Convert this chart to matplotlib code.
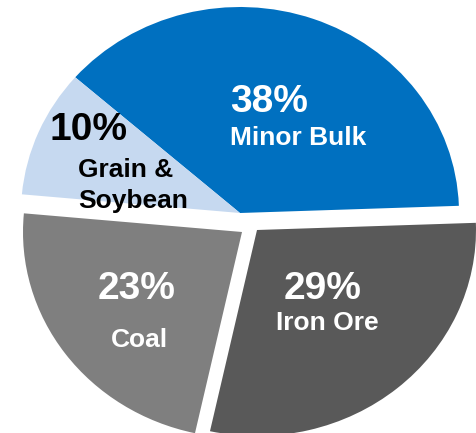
import matplotlib.pyplot as plt
import matplotlib as mpl

# cargo mix, counter-clockwise from 3 o'clock
categories = ["Minor Bulk", "Grain &\nSoybean", "Coal", "Iron Ore"]
shares = [38, 10, 23, 29]
pct_labels = ["38%", "10%", "23%", "29%"]

colors = ["#0070C0", "#C6D9F0", "#7F7F7F", "#595959"]

mpl.rcParams['font.family'] = ['Liberation Sans', 'DejaVu Sans']

W, H = 476, 433
RX, RY = 219, 206          # pixel radii of the (slightly squashed) pie
CX, CY = 240, 213          # pixel centre of the upper slices

fig = plt.figure(figsize=(W / 100, H / 100), dpi=100)
ax = fig.add_axes([0, 0, 1, 1])

wedges, _ = ax.pie(shares, colors=colors, startangle=2, counterclock=True,
                   radius=1, wedgeprops=dict(linewidth=0))

# pixel shifts of each wedge's apex (coal and iron ore pulled down)
shifts = [(0, 0), (0, 0), (2, 19), (17, 17)]
for w, (dx, dy) in zip(wedges, shifts):
    w.set_center((dx / RX, -dy / RY))

ax.set_aspect('auto')
ax.set_xlim(-CX / RX, (W - CX) / RX)
ax.set_ylim(-(H - CY) / RY, CY / RY)
ax.axis('off')


def put(x, y, s, size, color, ha):
    fig.text(x / W, 1 - y / H, s, fontsize=size, fontweight='bold',
             color=color, ha=ha, va='baseline', linespacing=1.05)


# label anchors in pixels (x, baseline y)
put(230, 112, pct_labels[0], 28, 'white', 'left')
put(230, 145, categories[0], 19, 'white', 'left')

put(49, 140, pct_labels[1], 28, 'black', 'left')
put(78, 177, categories[1].split("\n")[0], 19, 'black', 'left')
put(78, 208, categories[1].split("\n")[1], 19, 'black', 'left')

put(137, 299, pct_labels[2], 28, 'white', 'center')
put(139, 347, categories[2], 19, 'white', 'center')

put(323, 299, pct_labels[3], 28, 'white', 'center')
put(327, 330, categories[3], 19, 'white', 'center')

fig.savefig("out.png", dpi=100)
